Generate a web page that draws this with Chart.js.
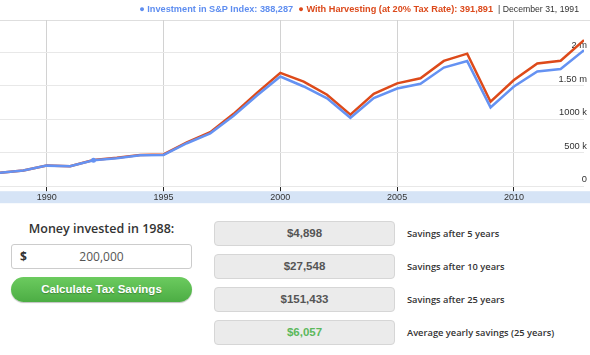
<!DOCTYPE html>
<html><head><meta charset="utf-8">
<script src="https://cdn.jsdelivr.net/npm/chart.js@4"></script>
<style>
body{margin:0;width:590px;height:355px;background:#fff;overflow:hidden;position:relative;font-family:"Liberation Sans",Arial,sans-serif}
#wrap{position:absolute;left:0;top:0;width:590px;height:204px}
#hdr{position:absolute;top:2px;right:11px;font-size:9.2px;white-space:nowrap;line-height:14px}
.b{color:#5f8ef0;font-weight:bold}
.r{color:#dc4a1c;font-weight:bold}
.d{color:#333;font-size:8.7px}
#q{position:absolute;left:11px;top:220px;width:181px;text-align:center;font-family:"Open Sans",sans-serif;font-weight:600;font-size:12.5px;color:#333}
#inp{position:absolute;left:11px;top:244px;width:179px;height:23px;border:1px solid #ccc;border-radius:3px;background:#fff;font-family:"Open Sans",sans-serif;font-size:12px;color:#555}
#inp .dl{position:absolute;left:8px;top:3px;font-weight:bold;color:#333}
#inp .v{position:absolute;left:0;width:179px;top:3px;text-align:center}
#btn{position:absolute;left:11px;top:277px;width:181px;height:25px;border-radius:13px;background:linear-gradient(#6ccb5f,#4cad44);box-shadow:0 1px 1px rgba(0,0,0,.25);color:#fff;font-weight:bold;font-size:11.5px;text-align:center;line-height:25px;text-shadow:0 1px 1px rgba(0,0,0,.25)}
.box{position:absolute;left:214px;width:179px;height:23px;border:1px solid #d6d6d6;border-radius:4px;background:#ebebeb;text-align:center;line-height:23px;font-weight:bold;font-size:11.5px;color:#555}
.lab{position:absolute;left:407px;font-family:"Open Sans",sans-serif;font-weight:600;font-size:9.3px;color:#333;line-height:25px}
</style></head>
<body>
<div id="wrap"><canvas id="c" width="590" height="204"></canvas></div>
<div id="hdr"><span class="b">&#9679; Investment in S&amp;P Index: 388,287</span>&nbsp; <span class="r">&#9679; With Harvesting (at 20% Tax Rate): 391,891</span> <span class="d">&nbsp;| December 31, 1991</span></div>
<div id="q">Money invested in 1988:</div>
<div id="inp"><span class="dl">$</span><span class="v">200,000</span></div>
<div id="btn">Calculate Tax Savings</div>
<div class="box" style="top:221px">$4,898</div><div class="lab" style="top:221px">Savings after 5 years</div>
<div class="box" style="top:254px">$27,548</div><div class="lab" style="top:254px">Savings after 10 years</div>
<div class="box" style="top:287px">$151,433</div><div class="lab" style="top:287px">Savings after 25 years</div>
<div class="box" style="top:320px;color:#5cb85c">$6,057</div><div class="lab" style="top:320px">Average yearly savings (25 years)</div>
<script>
const years = [1988,1989,1990,1991,1992,1993,1994,1995,1996,1997,1998,1999,2000,2001,2002,2003,2004,2005,2006,2007,2008,2009,2010,2011,2012,2013];
const investment = [200000,233000,307000,297000,388287,418000,460000,466000,641000,789000,1052000,1353000,1637000,1488000,1311000,1021000,1314000,1457000,1529000,1770000,1867000,1176000,1488000,1713000,1749000,2029000];
const harvesting = [200000,233500,308000,299000,391891,422900,466000,474000,653000,806000,1079500,1392000,1692000,1560000,1365000,1067000,1378000,1534000,1610000,1870000,1978000,1260000,1585000,1832000,1872000,2180000];
const xTickValues = [1990,1995,2000,2005,2010];
const yTickValues = [0,500000,1000000,1500000,2000000];
const yTickLabels = ['0','500 k','1000 k','1.50 m','2 m'];
const highlightIndex = 4;

const toPts = arr => years.map((y,i)=>({x:y,y:arr[i]}));
const radii = years.map((y,i)=> i===highlightIndex ? 2.5 : 0);

const bandPlugin = {
  id:'band',
  beforeDraw(chart){
    const {ctx, chartArea:a, width} = chart;
    ctx.save();
    ctx.fillStyle = '#d6e4f6';
    ctx.fillRect(0, a.bottom+5, width, 12);
    ctx.strokeStyle = '#dedede';
    ctx.lineWidth = 1;
    ctx.beginPath(); ctx.moveTo(0, a.top+0.5); ctx.lineTo(width, a.top+0.5); ctx.stroke();
    ctx.restore();
  }
};

new Chart(document.getElementById('c'), {
  type:'line',
  data:{datasets:[
    {label:'Investment in S&P Index', data:toPts(investment), borderColor:'#6592f2', backgroundColor:'#6592f2', borderWidth:2.5, pointRadius:radii, pointBorderWidth:0, tension:0},
    {label:'With Harvesting (at 20% Tax Rate)', data:toPts(harvesting), borderColor:'#dd4a1a', backgroundColor:'#dd4a1a', borderWidth:2.5, pointRadius:0, tension:0}
  ]},
  options:{
    responsive:false, animation:false,
    layout:{padding:{top:20,left:0,right:0,bottom:0}},
    plugins:{legend:{display:false}, tooltip:{enabled:false}},
    scales:{
      x:{type:'linear', min:1988, max:2013,
        afterBuildTicks: s => { s.ticks = xTickValues.map(v=>({value:v})); },
        grid:{color:'#d2d2d2', tickColor:'#222', tickLength:5, lineWidth:1},
        border:{display:false},
        ticks:{padding:1, font:{size:9, family:'"Liberation Sans", Arial'}, color:'#333', maxRotation:0, callback:v=>String(v)}
      },
      y:{position:'right', min:0, max:2480000,
        afterBuildTicks: s => { s.ticks = yTickValues.map(v=>({value:v})); },
        grid:{color:'#e8e8e8', drawTicks:false},
        border:{display:false},
        ticks:{mirror:true, padding:3, labelOffset:-6.5, font:{size:9.3, family:'"Liberation Sans", Arial'}, color:'#333',
          callback:(v)=>{ const i = yTickValues.indexOf(v); return i>=0 ? yTickLabels[i] : ''; }}
      }
    }
  },
  plugins:[bandPlugin]
});
</script>
</body></html>
